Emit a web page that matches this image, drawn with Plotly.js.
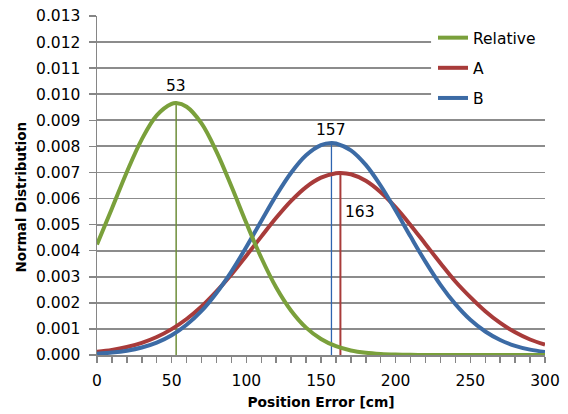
<!DOCTYPE html>
<html>
<head>
<meta charset="utf-8">
<script src="https://cdn.plot.ly/plotly-3.0.1.min.js"></script>
<style>html,body{margin:0;padding:0;background:#fff;}#chart{width:568px;height:414px;}</style>
</head>
<body>
<div id="chart"></div>
<script>
// Series names
var seriesNames = ["Relative", "A", "B"];

// Relative (peak at 53)
var relX = [0,10,20,30,40,50,53,60,70,80,90,100,110,120,130,140,150,160,170,180,190,200,210,220,230,240,250,260,270,280,290,300];
var relY = [0.00424,0.00562,0.00702,0.00827,0.00919,0.00963,0.00966,0.00952,0.00888,0.00780,0.00647,0.00506,0.00373,0.00259,0.00170,0.00105,0.000613,0.000337,0.000175,0.0000854,0.0000394,0.0000172,0.0000070,0.0000027,0.0000010,0,0,0,0,0,0,0];

// A (peak at 163)
var aX = [0,10,20,30,40,50,60,70,80,90,100,110,120,130,140,150,160,163,170,180,190,200,210,220,230,240,250,260,270,280,290,300];
var aY = [0.000120,0.000195,0.000307,0.000468,0.000691,0.000992,0.00138,0.00186,0.00244,0.00309,0.00381,0.00454,0.00526,0.00591,0.00644,0.00680,0.00697,0.00698,0.00693,0.00668,0.00624,0.00566,0.00498,0.00425,0.00352,0.00282,0.00222,0.00168,0.00123,0.000870,0.000595,0.000396];

// B (peak at 157)
var bX = [0,10,20,30,40,50,60,70,80,90,100,110,120,130,140,150,157,160,170,180,190,200,210,220,230,240,250,260,270,280,290,300];
var bY = [0.0000490,0.0000920,0.000166,0.000287,0.000475,0.000757,0.00116,0.00169,0.00238,0.00320,0.00414,0.00514,0.00612,0.00699,0.00766,0.00805,0.00813,0.00811,0.00785,0.00729,0.00649,0.00554,0.00454,0.00357,0.00269,0.00195,0.00135,0.000901,0.000575,0.000353,0.000207,0.000117];

// Peak markers (position, height) and their labels
var peakX = [53, 163, 157];
var peakY = [0.00966, 0.00698, 0.00813];
var peakLabels = ["53", "163", "157"];

var FONT = "'DejaVu Sans', sans-serif";
var colors = ["#7AA03B", "#A83B3A", "#3C6BA5"];
var vColors = ["#6E8E3A", "#A83B3A", "#2E64B0"];
var vWidths = [1.5, 2, 1.3];

var xs = [relX, aX, bX];
var ys = [relY, aY, bY];

var traces = [];
// vertical lines first (below curves)
for (var i = 0; i < 3; i++) {
  traces.push({
    x: [peakX[i], peakX[i]], y: [0, peakY[i]],
    type: "scatter", mode: "lines", showlegend: false, hoverinfo: "skip",
    line: {color: vColors[i], width: vWidths[i]}
  });
}
var drawOrder = [1, 2, 0];
for (var k = 0; k < 3; k++) {
  var j = drawOrder[k];
  traces.push({
    x: xs[j], y: ys[j], name: seriesNames[j],
    type: "scatter", mode: "lines",
    line: {color: colors[j], width: 4, shape: "spline"},
    legendgroup: "g" + j, legendrank: j + 1
  });
}

var annOffsets = [{xs: 0, ys: 17}, {xs: 20, ys: 0}, {xs: 0, ys: 13}];
var annotations = [];
for (var m = 0; m < 3; m++) {
  var ay = m === 1 ? 0.00548 : peakY[m];
  annotations.push({
    x: peakX[m], y: ay, text: peakLabels[m], showarrow: false,
    xref: "x", yref: "y", xshift: annOffsets[m].xs, yshift: annOffsets[m].ys,
    font: {family: FONT, size: 15.5, color: "#000"}
  });
}

var layout = {
  width: 568, height: 414,
  margin: {l: 97, r: 23, t: 16, b: 59},
  paper_bgcolor: "#fff", plot_bgcolor: "#fff",
  font: {family: FONT, size: 15.5, color: "#000"},
  xaxis: {
    range: [0, 300], dtick: 50, tick0: 0,
    showgrid: false, zeroline: false,
    showline: true, linecolor: "#868686", linewidth: 1.5,
    ticks: "outside", ticklen: 6, tickcolor: "#868686", tickwidth: 1.5,
    ticklabelstandoff: 5,
    minor: {dtick: 10, ticks: "outside", ticklen: 6, tickcolor: "#868686", tickwidth: 1.5, showgrid: false},
    tickfont: {size: 15.5},
    title: {text: "<b>Position Error [cm]</b>", font: {size: 13.8}, standoff: 8}
  },
  yaxis: {
    range: [0, 0.013], dtick: 0.001, tick0: 0, tickformat: ".3f",
    showgrid: true, gridcolor: "#8C8C8C", gridwidth: 1.8,
    zeroline: false,
    showline: true, linecolor: "#868686", linewidth: 1.5,
    ticks: "outside", ticklen: 7, tickcolor: "#868686", tickwidth: 1.5,
    ticklabelstandoff: 5,
    tickfont: {size: 15.5},
    title: {text: "<b>Normal Distribution&nbsp;&nbsp;&nbsp;&nbsp;&nbsp;</b>", font: {size: 13.5}, standoff: 6}
  },
  shapes: [{
    type: "rect", xref: "x", yref: "y", layer: "between",
    x0: 223.7, x1: 300, y0: 0.00947, y1: 0.0128,
    fillcolor: "#fff", line: {width: 0}
  }],
  legend: {
    x: 0.75, y: 0.985, xanchor: "left", yanchor: "top",
    bgcolor: "rgba(0,0,0,0)", borderwidth: 0,
    traceorder: "grouped", tracegroupgap: 7,
    font: {size: 15.5}
  },
  annotations: annotations,
  showlegend: true
};

Plotly.newPlot("chart", traces, layout, {displayModeBar: false, staticPlot: true});
</script>
</body>
</html>
